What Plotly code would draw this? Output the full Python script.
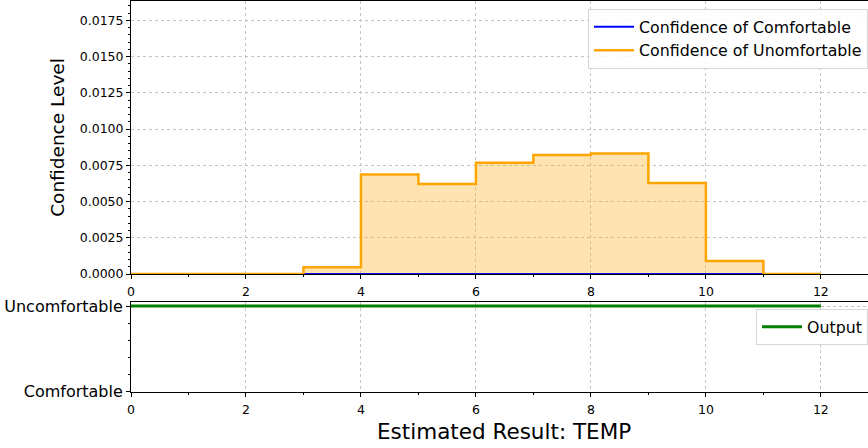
import plotly.graph_objects as go

# Data
bin_edges = [0, 1, 2, 3, 4, 5, 6, 7, 8, 9, 10, 11, 12]
conf_uncomfortable = [0, 0, 0, 0.00046, 0.00687, 0.0062, 0.00767, 0.0082, 0.00831, 0.00627, 0.0009, 0]
conf_comfortable = [0, 0, 0, 0, 0, 0, 0, 0, 0, 0, 0, 0]
output_x = [0, 12]
output_y = [1, 1]
y2_ticks = [0, 1]
y2_labels = ["Comfortable", "Uncomfortable"]

W, H = 868, 448
FONT = "DejaVu Sans"

def py(p):
    return 1 - p / H

xl = 131 / W
fig = go.Figure()

unc_y = conf_uncomfortable + [conf_uncomfortable[-1]]
com_y = conf_comfortable + [conf_comfortable[-1]]

fig.add_trace(go.Scatter(
    x=bin_edges, y=unc_y, mode="lines", line=dict(width=0, shape="hv"),
    fill="tozeroy", fillcolor="rgba(255,165,0,0.3)", showlegend=False,
    hoverinfo="skip", xaxis="x", yaxis="y"))
fig.add_trace(go.Scatter(
    x=bin_edges, y=com_y,
    mode="lines", line=dict(color="blue", width=2, shape="hv"),
    name="Confidence of Comfortable", xaxis="x", yaxis="y", legend="legend"))
fig.add_trace(go.Scatter(
    x=bin_edges, y=unc_y,
    mode="lines", line=dict(color="#FFA500", width=2.5, shape="hv"),
    name="Confidence of Unomfortable", xaxis="x", yaxis="y", legend="legend"))
fig.add_trace(go.Scatter(
    x=output_x, y=output_y, mode="lines",
    line=dict(color="green", width=3),
    name="Output", xaxis="x2", yaxis="y2", legend="legend2"))

xcommon = dict(
    range=[0, 12.82], tickmode="linear", tick0=0, dtick=2,
    ticks="outside", ticklen=4, tickcolor="black",
    showline=True, linecolor="black", linewidth=1, mirror=True,
    showgrid=True, gridcolor="#c4c4c4", griddash="dot", gridwidth=0.8,
    zeroline=False, automargin=False, ticklabelstandoff=2,
    tickfont=dict(family=FONT, size=12.5, color="black"),
    minor=dict(dtick=1, tick0=0, ticks="outside", ticklen=2, tickcolor="black", showgrid=False),
)

fig.update_layout(
    width=W, height=H,
    margin=dict(l=0, r=0, t=0, b=0, pad=0, autoexpand=False),
    paper_bgcolor="white", plot_bgcolor="white",
    font=dict(family=FONT, color="black"),
    xaxis=dict(domain=[xl, 1], anchor="y", **xcommon),
    yaxis=dict(
        domain=[py(274), py(1)], anchor="x",
        range=[0, 0.01883], tickmode="linear", tick0=0, dtick=0.0025,
        tickformat=".4f", automargin=False,
        ticks="outside", ticklen=4, tickcolor="black",
        showline=True, linecolor="black", linewidth=1, mirror=True,
        showgrid=True, gridcolor="#c4c4c4", griddash="dot", gridwidth=0.8,
        zeroline=False,
        tickfont=dict(family=FONT, size=12.5, color="black"),
        minor=dict(dtick=0.0005, tick0=0, ticks="outside", ticklen=2, tickcolor="black", showgrid=False),
        title=dict(text="Confidence Level", font=dict(family=FONT, size=18.5, color="black"), standoff=10),
    ),
    xaxis2=dict(domain=[xl, 1], anchor="y2", **xcommon),
    yaxis2=dict(
        domain=[py(391.7), py(302)], anchor="x2",
        range=[0, 1.047], automargin=False,
        tickmode="array", tickvals=y2_ticks, ticktext=y2_labels,
        ticks="outside", ticklen=4, tickcolor="black",
        showline=True, linecolor="black", linewidth=1, mirror=True,
        showgrid=True, gridcolor="#c4c4c4", griddash="dot", gridwidth=0.8,
        zeroline=False,
        tickfont=dict(family=FONT, size=16, color="black"),
        minor=dict(tickmode="array", tickvals=[0.2, 0.4, 0.6, 0.8], ticks="outside", ticklen=2, tickcolor="black", showgrid=False),
    ),
    legend=dict(
        x=1.0, y=py(9), xanchor="right", yanchor="top",
        bgcolor="rgba(255,255,255,0.85)", bordercolor="#d6d6d6", borderwidth=1,
        font=dict(family=FONT, size=15.8, color="black"),
        tracegroupgap=0, itemwidth=40,
    ),
    legend2=dict(
        x=1.0, y=py(309), xanchor="right", yanchor="top",
        bgcolor="rgba(255,255,255,0.85)", bordercolor="#d6d6d6", borderwidth=1,
        font=dict(family=FONT, size=15.8, color="black"),
        itemwidth=40,
    ),
    showlegend=True,
    annotations=[dict(
        text="Estimated Result: TEMP", x=504 / W, y=py(431), xref="paper", yref="paper",
        xanchor="center", yanchor="middle", showarrow=False,
        font=dict(family=FONT, size=21.5, color="black"))],
)

fig.write_html("out.html")
